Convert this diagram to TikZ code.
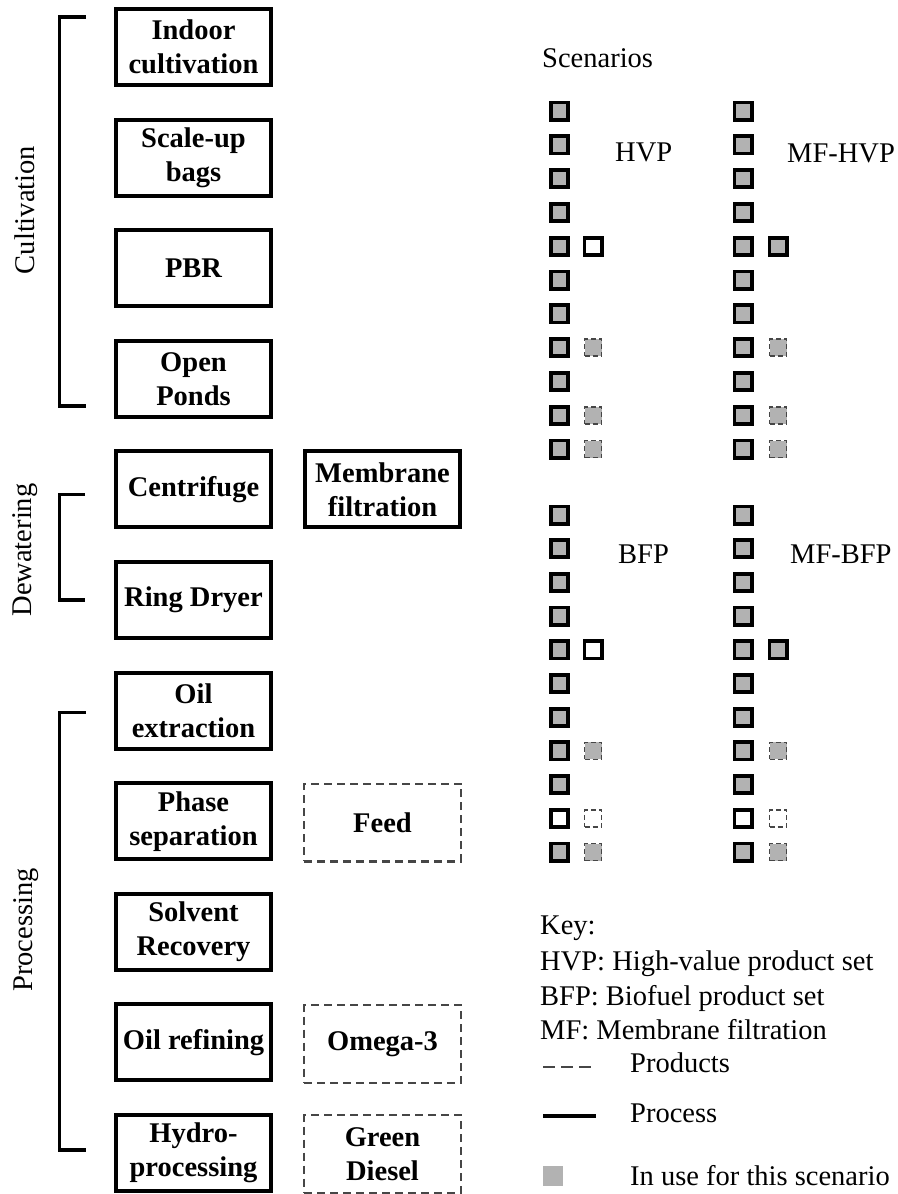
\documentclass[tikz,border=0pt]{standalone}
\usepackage{fontspec}
\usepackage{graphicx}
\setmainfont{Liberation Serif}
\definecolor{fillgray}{RGB}{178,178,178}
\definecolor{dashcol}{RGB}{70,70,70}
\tikzset{
  txt/.style={font=\fontsize{28.5}{34}\selectfont, inner sep=0pt},
  procbox/.style={draw=black, line width=4pt, minimum width=155pt, minimum height=76pt,
    inner sep=1pt, align=center, font=\bfseries\fontsize{28.5}{34}\selectfont},
  prodbox/.style={draw=dashcol, line width=2.2pt, dash pattern=on 8pt off 5pt,
    minimum width=156.8pt, minimum height=77.8pt,
    inner sep=1pt, align=center, font=\bfseries\fontsize{28.5}{34}\selectfont},
  bracket/.style={line width=3.5pt, line cap=butt},
  pon/.style={draw=black, line width=3.8pt, fill=fillgray, minimum size=17.2pt, inner sep=0pt},
  poff/.style={draw=black, line width=3.8pt, fill=white, minimum size=17.2pt, inner sep=0pt},
  don/.style={draw=dashcol, line width=1.6pt, dash pattern=on 5pt off 3pt, fill=fillgray, minimum size=17pt, inner sep=0pt},
  doff/.style={draw=dashcol, line width=1.6pt, dash pattern=on 5pt off 3pt, fill=white, minimum size=17pt, inner sep=0pt},
}
\begin{document}
\begin{tikzpicture}[x=1pt, y=-1pt]
\useasboundingbox (0,0) rectangle (897,1194);
% process boxes
\node[procbox] (b1) at (193.5,47) {Indoor\\cultivation};
\node[procbox] (b2) at (193.5,157.6) {Scale-up\\bags};
\node[procbox] (b3) at (193.5,268.2) {PBR};
\node[procbox] (b4) at (193.5,378.8) {Open\\Ponds};
\node[procbox] (b5) at (193.5,489.4) {Centrifuge};
\node[procbox] (b6) at (193.5,600) {Ring Dryer};
\node[procbox] (b7) at (193.5,710.6) {Oil\\extraction};
\node[procbox] (b8) at (193.5,821.2) {Phase\\separation};
\node[procbox] (b9) at (193.5,931.8) {Solvent\\Recovery};
\node[procbox] (b10) at (193.5,1042.4) {Oil refining};
\node[procbox] (b11) at (193.5,1153) {Hydro-\\processing};
\node[procbox] (mf) at (382.5,489.4) {Membrane\\filtration};
\node[prodbox] (feed) at (382.5,822.5) {Feed};
\node[prodbox] (omega) at (382.5,1044) {Omega-3};
\node[prodbox] (gd) at (382.5,1154) {Green\\Diesel};
% brackets
\draw[bracket] (86,17) -- (59.5,17) -- (59.5,406) -- (86,406);
\draw[bracket] (85,494.5) -- (59.5,494.5) -- (59.5,600) -- (85,600);
\draw[bracket] (86,712.5) -- (59.5,712.5) -- (59.5,1150) -- (86,1150);
\node[txt, rotate=90] (lcult) at (25,210) {Cultivation};
\node[txt, rotate=90] (ldew) at (25,550) {Dewatering};
\node[txt, rotate=90] (lproc) at (26,930) {Processing};
% scenarios
\node[txt, anchor=base west] (scen) at (542,67) {Scenarios};
\node[txt, anchor=base west] (lhvp) at (615,161) {HVP};
\node[txt, anchor=base west] (lmfhvp) at (787,162) {MF-HVP};
\node[txt, anchor=base west] (lbfp) at (618,563) {BFP};
\node[txt, anchor=base west] (lmfbfp) at (790,563) {MF-BFP};
% main columns
\foreach \r in {1,...,11}{
  \node[pon] (hvp\r) at (559.5,{111+33.8*(\r-1)}) {};
  \node[pon] (mfhvp\r) at (743,{111+33.8*(\r-1)}) {};
}
\foreach \r in {1,...,9,11}{
  \node[pon] (bfp\r) at (559.5,{515+33.7*(\r-1)}) {};
  \node[pon] (mfbfp\r) at (743,{515+33.7*(\r-1)}) {};
}
\node[poff] (bfp10) at (559.5,{515+33.7*9}) {};
\node[poff] (mfbfp10) at (743,{515+33.7*9}) {};
% second columns
\node[poff] (hvpx5) at (593,{111+33.8*4}) {};
\node[don] (hvpx8) at (593,{111+33.8*7}) {};
\node[don] (hvpx10) at (593,{111+33.8*9}) {};
\node[don] (hvpx11) at (593,{111+33.8*10}) {};
\node[pon] (mfhvpx5) at (778,{111+33.8*4}) {};
\node[don] (mfhvpx8) at (778,{111+33.8*7}) {};
\node[don] (mfhvpx10) at (778,{111+33.8*9}) {};
\node[don] (mfhvpx11) at (778,{111+33.8*10}) {};
\node[poff] (bfpx5) at (593,{515+33.7*4}) {};
\node[don] (bfpx8) at (593,{515+33.7*7}) {};
\node[doff] (bfpx10) at (593,{515+33.7*9}) {};
\node[don] (bfpx11) at (593,{515+33.7*10}) {};
\node[pon] (mfbfpx5) at (778,{515+33.7*4}) {};
\node[don] (mfbfpx8) at (778,{515+33.7*7}) {};
\node[doff] (mfbfpx10) at (778,{515+33.7*9}) {};
\node[don] (mfbfpx11) at (778,{515+33.7*10}) {};
% key
\node[txt, anchor=base west] (key) at (540,934) {Key:};
\node[txt, anchor=base west] (k1) at (540,970) {HVP: High-value product set};
\node[txt, anchor=base west] (k2) at (540,1005) {BFP: Biofuel product set};
\node[txt, anchor=base west] (k3) at (540,1039) {MF: Membrane filtration};
\node[txt, anchor=base west] (k4) at (630,1072) {Products};
\node[txt, anchor=base west] (k5) at (630,1122) {Process};
\node[txt, anchor=base west] (k6) at (630,1185) {In use for this scenario};
\coordinate (d1) at (543,1067);
\coordinate (d2) at (591,1067);
\draw[draw=dashcol, line width=2pt, dash pattern=on 12pt off 6pt] (d1) -- (d2);
\coordinate (s1) at (543,1116);
\coordinate (s2) at (596,1116);
\draw[line width=4pt] (s1) -- (s2);
\node[fill=fillgray, minimum size=20pt, inner sep=0pt] (gsq) at (553,1176) {};
\end{tikzpicture}
\end{document}
